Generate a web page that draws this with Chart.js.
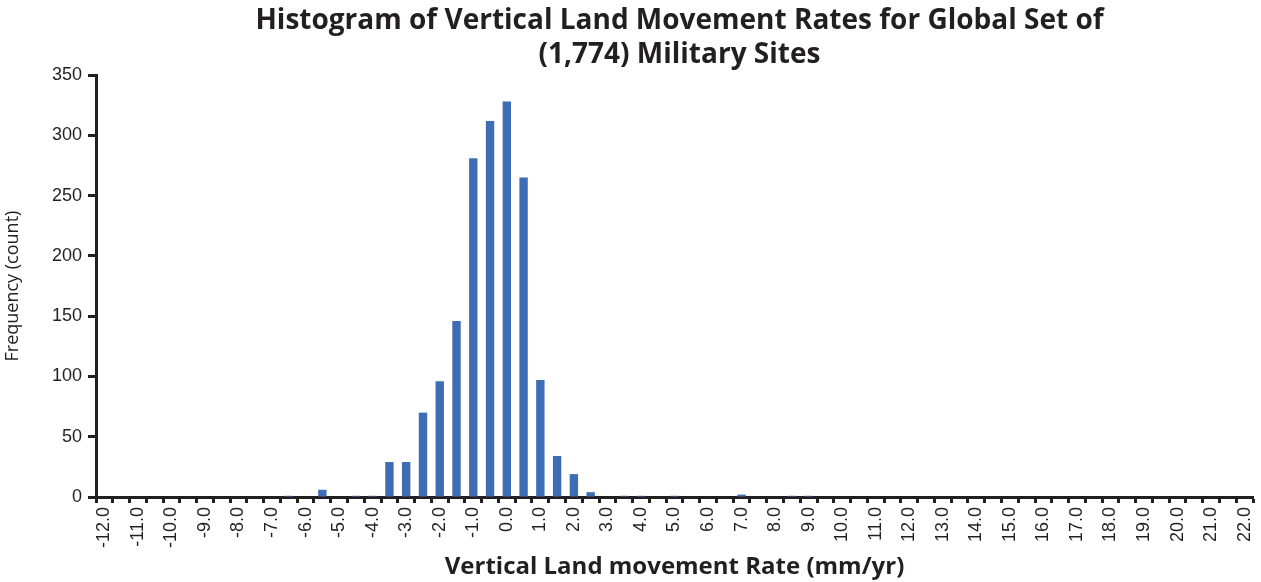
<!DOCTYPE html>
<html>
<head>
<meta charset="utf-8">
<script src="https://cdn.jsdelivr.net/npm/chart.js@4.4.0/dist/chart.umd.min.js"></script>
<style>
  html, body { margin: 0; padding: 0; background: #fff; }
  #wrap { position: relative; width: 1261px; height: 582px; }
</style>
</head>
<body>
<div id="wrap"><canvas id="vlm-chart"></canvas></div>
<script>
  'use strict'

  // bin centres (mm/yr), every 0.5
  var rateBins = [
    '-12.0', '-11.5', '-11.0', '-10.5', '-10.0', '-9.5', '-9.0', '-8.5', '-8.0', '-7.5',
    '-7.0', '-6.5', '-6.0', '-5.5', '-5.0', '-4.5', '-4.0', '-3.5', '-3.0', '-2.5',
    '-2.0', '-1.5', '-1.0', '-0.5', '0.0', '0.5', '1.0', '1.5', '2.0', '2.5',
    '3.0', '3.5', '4.0', '4.5', '5.0', '5.5', '6.0', '6.5', '7.0', '7.5',
    '8.0', '8.5', '9.0', '9.5', '10.0', '10.5', '11.0', '11.5', '12.0', '12.5',
    '13.0', '13.5', '14.0', '14.5', '15.0', '15.5', '16.0', '16.5', '17.0', '17.5',
    '18.0', '18.5', '19.0', '19.5', '20.0', '20.5', '21.0', '21.5', '22.0'
  ]

  // site counts per bin
  var siteCounts = [
    0, 0, 0, 0, 0, 0, 0, 0, 0, 0,
    0, 1, 0, 6, 0, 1, 1, 29, 29, 70,
    96, 146, 281, 312, 328, 265, 97, 34, 19, 4,
    0, 1, 1, 0, 1, 0, 0, 0, 2, 0,
    0, 1, 1, 0, 0, 0, 0, 0, 0, 0,
    0, 0, 0, 0, 0, 0, 0, 0, 0, 0,
    0, 0, 0, 0, 0, 0, 0, 0, 0
  ]

  var yTicks = [0, 50, 100, 150, 200, 250, 300, 350]

  var ink = '#231f20'

  // centre the title over the plot area rather than the whole canvas
  var titleOverPlot = {
    id: 'titleOverPlot',
    afterLayout: function (chart) {
      if (!chart.titleBlock) return
      chart.titleBlock.left = chart.chartArea.left
      chart.titleBlock.right = chart.chartArea.right + 10
    }
  }

  var ctx = document.getElementById('vlm-chart').getContext('2d')

  var vlmChart = new Chart(ctx, {
    type: 'bar',
    data: {
      labels: rateBins,
      datasets: [{
        label: 'Frequency',
        data: siteCounts,
        backgroundColor: '#3e6db5',
        borderWidth: 0,
        barPercentage: 0.5,
        categoryPercentage: 1.0
      }]
    },
    plugins: [titleOverPlot],
    options: {
      responsive: true,
      maintainAspectRatio: false,
      animation: false,
      layout: { padding: { left: 0, right: 8, top: 0, bottom: 0 } },
      plugins: {
        legend: { display: false },
        tooltip: { enabled: false },
        title: {
          display: true,
          text: ['Histogram of Vertical Land Movement Rates for Global Set of', '(1,774) Military Sites'],
          color: ink,
          font: { family: 'Open Sans', size: 28, weight: 'bold', lineHeight: 1.18 },
          padding: { top: 5, bottom: 4 }
        }
      },
      scales: {
        x: {
          type: 'category',
          offset: true,
          border: { display: true, color: ink, width: 3 },
          grid: {
            offset: true,
            drawOnChartArea: false,
            drawTicks: true,
            tickLength: 6,
            tickWidth: 3,
            tickColor: ink
          },
          ticks: {
            autoSkip: false,
            maxRotation: 90,
            minRotation: 90,
            padding: 4,
            color: ink,
            font: { family: 'Liberation Sans', size: 18 },
            callback: function (val, idx) {
              return idx % 2 === 0 ? rateBins[idx] : ''
            }
          },
          title: {
            display: true,
            text: 'Vertical Land movement Rate (mm/yr)',
            color: ink,
            font: { family: 'Open Sans', size: 24, weight: 'bold' },
            padding: { top: 0, bottom: 0 }
          },
          afterFit: function (scale) {
            scale.height = 85
            scale.paddingRight = 0
          }
        },
        y: {
          min: 0,
          max: 350,
          afterBuildTicks: function (scale) {
            scale.ticks = yTicks.map(function (v) { return { value: v } })
          },
          border: { display: true, color: ink, width: 3 },
          grid: {
            drawOnChartArea: false,
            drawTicks: true,
            tickLength: 8,
            tickWidth: 3,
            tickColor: ink
          },
          ticks: {
            padding: 6,
            color: ink,
            font: { family: 'Liberation Sans', size: 18 }
          },
          title: {
            display: true,
            text: 'Frequency (count)',
            color: ink,
            font: { family: 'Open Sans', size: 18 },
            padding: { top: 2, bottom: 0 }
          },
          afterFit: function (scale) { scale.width = 96 }
        }
      }
    }
  })
</script>
</body>
</html>
